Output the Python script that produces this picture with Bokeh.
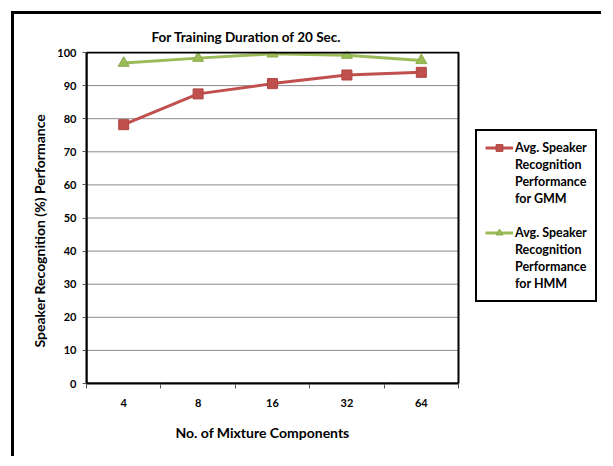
from bokeh.plotting import figure
from bokeh.models import Legend, LegendItem, FixedTicker, Range1d, BoxAnnotation, Title
from bokeh.embed import file_html
from bokeh.resources import INLINE

components = ["4", "8", "16", "32", "64"]
gmm = [78.2, 87.5, 90.6, 93.2, 94.0]
hmm = [96.8, 98.3, 99.6, 99.2, 97.6]
y_ticks = list(range(0, 101, 10))
gmm_label = ["Avg. Speaker", "Recognition", "Performance", "for GMM"]
hmm_label = ["Avg. Speaker", "Recognition", "Performance", "for HMM"]
title_text = "For Training Duration of 20 Sec."
x_title = "No. of Mixture Components"
y_title = "Speaker Recognition (%) Performance"

FONT = "Lato"
RED = "#C0504D"
GREEN = "#9BBB59"

# layout (pixels, relative to the canvas)
W, H = 590, 445
LEFT, TOP, BOTTOM = 75, 40, 73
PLOT_W = 372          # width of the plotting box
FRAME_W = W - LEFT - 3
n = len(components)
x_end = n * FRAME_W / PLOT_W
FRAME_H = H - TOP - BOTTOM
y_end = 100 + 100 / (FRAME_H - 1)

p = figure(width=W, height=H, output_backend="svg", toolbar_location=None,
           x_range=Range1d(0, x_end), y_range=Range1d(0, y_end),
           min_border_left=LEFT, min_border_right=3, min_border_top=TOP,
           min_border_bottom=BOTTOM)
p.margin = (11, 0, 0, 11)
p.border_fill_alpha = 0
p.styles = {"box-shadow": "inset 3px 3px 0 0 black"}
p.outline_line_color = None

xs = [i + 0.5 for i in range(n)]

p.title.text = title_text
p.title.text_font = FONT
p.title.text_font_size = "13.5px"
p.title.text_font_style = "bold"
p.title.text_color = "black"
p.title.align = "left"
p.title.offset = 65
p.title.standoff = 14

# grid (only across the plotting box)
p.xgrid.grid_line_color = None
p.ygrid.grid_line_color = None
p.segment(x0=[0] * len(y_ticks), x1=[n] * len(y_ticks), y0=y_ticks, y1=y_ticks,
          line_color="#8c8c8c", line_width=1)

# y axis
p.yaxis.ticker = FixedTicker(ticks=y_ticks)
p.yaxis.major_label_text_font = FONT
p.yaxis.major_label_text_font_size = "11px"
p.yaxis.major_label_text_font_style = "bold"
p.yaxis.major_label_text_color = "black"
p.yaxis.major_tick_out = 4
p.yaxis.major_tick_in = 0
p.yaxis.major_label_standoff = 6
p.yaxis.minor_tick_line_color = None
p.yaxis.axis_line_color = "black"
p.yaxis.axis_line_width = 2
p.yaxis.major_tick_line_color = "#555555"
p.yaxis.bounds = (0, 100)

# x axis
p.xaxis.ticker = FixedTicker(ticks=xs, minor_ticks=list(range(n + 1)))
p.xaxis.major_label_overrides = {x: c for x, c in zip(xs, components)}
p.xaxis.bounds = (0, n)
p.xaxis.major_tick_line_color = None
p.xaxis.major_tick_out = 0
p.xaxis.major_tick_in = 0
p.xaxis.minor_tick_out = 5
p.xaxis.minor_tick_in = 0
p.xaxis.minor_tick_line_color = "#555555"
p.xaxis.major_label_standoff = 10
p.xaxis.major_label_text_font = FONT
p.xaxis.major_label_text_font_size = "11px"
p.xaxis.major_label_text_font_style = "bold"
p.xaxis.major_label_text_color = "black"
p.xaxis.axis_line_color = "black"
p.xaxis.axis_line_width = 2

# axis titles (offset like the original, not centred on the box)
p.add_layout(Title(text=x_title, text_font=FONT, text_font_size="14px",
                   text_font_style="bold", text_color="black",
                   align="left", offset=89, standoff=25),
             "below")
p.add_layout(Title(text=y_title, text_font=FONT, text_font_size="14px",
                   text_font_style="bold", text_color="black",
                   align="left", offset=36, standoff=13),
             "left")

# plotting box outline
p.add_layout(BoxAnnotation(left=0, right=n, bottom=0, top=100, fill_alpha=0,
                           line_color="black", line_width=2, line_alpha=1))

l1 = p.line(xs, gmm, line_color=RED, line_width=3)
s1 = p.scatter(xs, gmm, marker="square", size=10, fill_color=RED, line_color="#b04440")
l2 = p.line(xs, hmm, line_color=GREEN, line_width=3)
s2 = p.scatter(xs, hmm, marker="triangle", size=11, fill_color=GREEN, line_color="#8aab48")

items = [LegendItem(label=gmm_label[0], renderers=[l1, s1])]
items += [LegendItem(label=t, renderers=[]) for t in gmm_label[1:]]
items += [LegendItem(label=" ", renderers=[])]
items += [LegendItem(label=hmm_label[0], renderers=[l2, s2])]
items += [LegendItem(label=t, renderers=[]) for t in hmm_label[1:]]

legend = Legend(items=items, location=(389, 81))
legend.label_text_font = FONT
legend.label_text_font_size = "12.5px"
legend.label_text_font_style = "bold"
legend.label_text_color = "black"
legend.label_standoff = 2
legend.label_height = 17
legend.glyph_width = 28
legend.glyph_height = 17
legend.padding = 8
legend.spacing = 0
legend.border_line_color = "black"
legend.border_line_width = 2
legend.border_line_alpha = 1
legend.background_fill_alpha = 1
legend.margin = 0
p.add_layout(legend, "center")

open("out.html", "w").write(file_html(p, INLINE))
